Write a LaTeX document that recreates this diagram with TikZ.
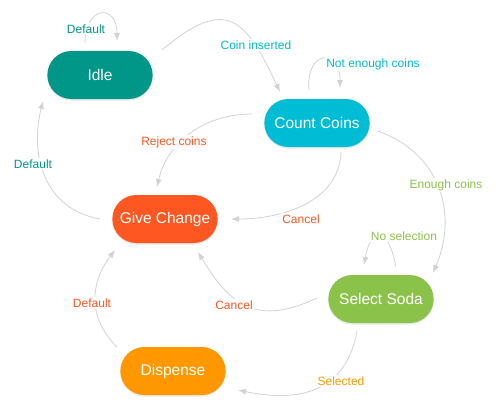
\documentclass[tikz,border=0pt]{standalone}
\usepackage{fontspec}
\setmainfont{Liberation Sans}
\usetikzlibrary{arrows.meta, shapes.misc, shadows}

\definecolor{idleteal}{HTML}{009688}
\definecolor{coincyan}{HTML}{00BCD4}
\definecolor{changered}{HTML}{FF5722}
\definecolor{sodagreen}{HTML}{8BC34A}
\definecolor{dispenseorange}{HTML}{FF9800}
\definecolor{wire}{HTML}{D2D2D2}

\begin{document}
\begin{tikzpicture}[x=1pt, y=1pt, >={Latex[length=8pt,width=6pt]},
  state/.style={rounded rectangle, minimum width=112pt, minimum height=48pt, text=white,
    font=\fontsize{15.5}{18}\selectfont,
    drop shadow={opacity=.18, shadow xshift=0pt, shadow yshift=-1.5pt}},
  trans/.style={wire, line width=.8pt, ->},
  lbl/.style={fill=white, inner sep=1.5pt, font=\fontsize{12}{14}\selectfont}]

\useasboundingbox (0,0) rectangle (497,-412);
%\draw[xstep=50,ystep=50,color=gray!40] (0,-412) grid (497,0);

% states
\node[state, fill=idleteal] (idle) at (100,-75) {Idle};
\node[state, fill=coincyan] (count) at (317,-123) {Count Coins};
\node[state, fill=changered] (change) at (165,-219) {Give Change};
\node[state, fill=sodagreen] (select) at (381,-299) {Select Soda};
\node[state, fill=dispenseorange] (dispense) at (173,-371) {Dispense};

% transitions
\draw[trans] ([shift={(-15,32)}]idle.center) to[out=90, in=90, looseness=3] ([shift={(17,34)}]idle.center);
\draw[trans] ([shift={(62,25)}]idle.center) to[out=40, in=115, looseness=1.7] ([shift={(-37,31)}]count.center);
\draw[trans] ([shift={(-8,33)}]count.center) to[out=95, in=90, looseness=3.3] ([shift={(23,35)}]count.center);
\draw[trans] ([shift={(-65,9)}]count.center) to[out=180, in=77] ([shift={(-8,32)}]change.center);
\draw[trans] ([shift={(-65,0)}]change.center) to[out=170, in=-104, looseness=1.1] ([shift={(-57,-26)}]idle.center);
\draw[trans] ([shift={(24,-29)}]count.center) to[out=-92, in=0] ([shift={(66,0)}]change.center);
\draw[trans] ([shift={(61,-8)}]count.center) to[out=-20, in=67, looseness=1.1] ([shift={(52,26)}]select.center);
\draw[trans] ([shift={(15,32)}]select.center) to[out=100, in=80, looseness=3.2] ([shift={(-17,34)}]select.center);
\draw[trans] ([shift={(-64,1)}]select.center) to[out=205, in=-59, looseness=1.3] ([shift={(33,-33)}]change.center);
\draw[trans] ([shift={(-56,24)}]dispense.center) to[out=135, in=233, looseness=1.1] ([shift={(-50,-31)}]change.center);
\draw[trans] ([shift={(-24,-32)}]select.center) to[out=-100, in=-12, looseness=1.2] ([shift={(65,-19)}]dispense.center);

% labels
\node[lbl, text=idleteal] (lidle) at (86,-29) {Default};
\node[lbl, text=coincyan] (lcoin) at (256,-45) {Coin inserted};
\node[lbl, text=coincyan] (lnot) at (373,-64) {Not enough coins};
\node[lbl, text=changered] (lreject) at (174,-142) {Reject coins};
\node[lbl, text=idleteal] (lback) at (33,-164) {Default};
\node[lbl, text=changered] (lcancel) at (301,-219) {Cancel};
\node[lbl, text=sodagreen] (lenough) at (446,-185) {Enough coins};
\node[lbl, text=sodagreen] (lnosel) at (404,-236) {No selection};
\node[lbl, text=changered] (lcancelsoda) at (234,-305) {Cancel};
\node[lbl, text=changered] (ldone) at (92,-303) {Default};
\node[lbl, text=dispenseorange] (lsel) at (341,-381) {Selected};

\end{tikzpicture}
\end{document}
